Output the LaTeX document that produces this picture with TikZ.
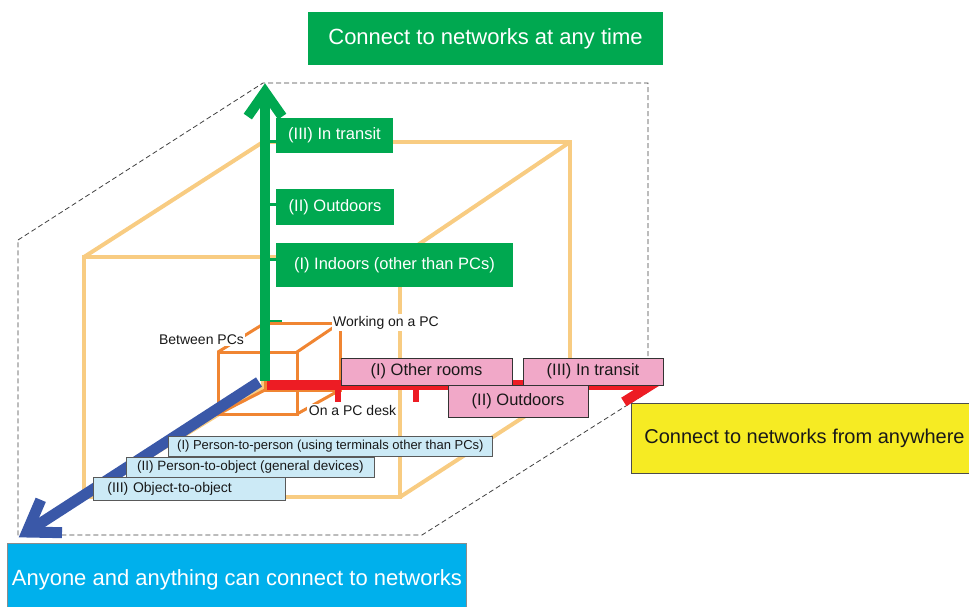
\documentclass[tikz,border=0pt]{standalone}
\usepackage{fontspec}
\setmainfont{Liberation Sans}
\usetikzlibrary{calc}

\begin{document}
\begin{tikzpicture}[x=1pt, y=-1pt,
    frame/.style={black!75, line width=0.8pt, dash pattern=on 5pt off 3pt},
    cube/.style={cubeorange, line width=4pt},
    pccube/.style={pcorange, line width=3pt},
    gaxis/.style={netgreen, line width=10pt},
    raxis/.style={netred, line width=10pt},
    baxis/.style={netblue, line width=11pt},
    gstub/.style={netgreen, line width=3pt},
    rtick/.style={netred, line width=6pt},
    gbox/.style={fill=netgreen, text=white, inner sep=0pt, font=\fontsize{16.5}{18}\selectfont},
    pbox/.style={draw=black!80, line width=0.7pt, fill=roompink, text=black!90, inner sep=0pt, font=\fontsize{16.5}{18}\selectfont},
    bbox/.style={draw=black!65, line width=0.7pt, fill=devblue, text=black!90, inner sep=0pt, minimum height=20pt, anchor=north west, font=\fontsize{13}{15}\selectfont},
    pclabel/.style={fill=white, text=black!90, inner sep=1.5pt, font=\fontsize{14}{16}\selectfont},
    bigbox/.style={inner sep=0pt, font=\fontsize{22}{24}\selectfont}]

  \definecolor{netgreen}{RGB}{0,168,80}
  \definecolor{netred}{RGB}{237,28,36}
  \definecolor{netblue}{RGB}{58,88,168}
  \definecolor{cubeorange}{RGB}{248,204,130}
  \definecolor{pcorange}{RGB}{240,133,50}
  \definecolor{roompink}{RGB}{241,168,200}
  \definecolor{devblue}{RGB}{204,234,246}
  \definecolor{anyyellow}{RGB}{246,235,35}
  \definecolor{anycyan}{RGB}{0,176,236}

  \useasboundingbox (0,0) rectangle (969,607);

  % outer dashed frame
  \draw[frame] (18,240) -- (263,83) -- (648,83) -- (648,392) -- (422,535) -- (18,535) -- cycle;

  % big cube
  \draw[cube] (84,257) rectangle (400,497);
  \draw[cube] (263,142) rectangle (570,387);
  \foreach \f/\b in {{84,257}/{263,142}, {400,257}/{570,142}, {400,497}/{570,387}, {84,497}/{263,387}}
    \draw[cube] (\f) -- (\b);

  % small tick on the time axis
  \draw[gstub] (265,321) -- (282,321);

  % PC cube
  \draw[pccube] (218,352) rectangle (297,414);
  \draw[pccube] (265,323) rectangle (340,390);
  \foreach \f/\b in {{218,352}/{265,323}, {297,352}/{340,323}, {297,414}/{340,390}, {218,414}/{265,390}}
    \draw[pccube] (\f) -- (\b);

  \node[pclabel] (between) at (201.5,339.5) {Between PCs};
  \node[pclabel] (working) at (386,322.5) {Working on a PC};
  \node[pclabel] (desk) at (352.5,410.5) {On a PC desk};

  % the three axes, open heads
  \coordinate (origin) at (265,381);
  \coordinate (rorigin) at (267,385);
  \coordinate (borigin) at (259,382);
  \coordinate (gtip) at (265,92);
  \coordinate (rtip) at (651,385);
  \coordinate (btip) at (27,532);

  \draw[baxis] (borigin) -- (btip);
  \draw[baxis, line join=miter] ($(btip)!35pt!34:(borigin)$) -- (btip) -- ($(btip)!35pt!-34:(borigin)$);

  \draw[raxis] (rorigin) -- (rtip);
  \draw[raxis, line join=miter] ($(rtip)!32pt!32:(rorigin)$) -- (rtip) -- ($(rtip)!32pt!-32:(rorigin)$);
  \foreach \x in {338,416}
    \draw[rtick] (\x,388) -- (\x,402);

  \draw[gaxis] (origin) -- (gtip);
  \draw[gaxis, line join=miter] ($(gtip)!30pt!35:(origin)$) -- (gtip) -- ($(gtip)!30pt!-35:(origin)$);

  % time labels
  \node[gbox, minimum width=117pt, minimum height=35pt] (gtransit) at (334.5,135.5) {(III) In transit};
  \node[gbox, minimum width=118pt, minimum height=36pt] (goutdoors) at (335,207) {(II) Outdoors};
  \node[gbox, minimum width=237pt, minimum height=44pt] (gindoors) at (394.5,265) {(I) Indoors (other than PCs)};
  \draw[gstub] (265,142) -- (gtransit.west |- 0,142);
  \draw[gstub] (265,204) -- (goutdoors.west |- 0,204);
  \draw[gstub] (265,259) -- (gindoors.west |- 0,259);

  % place labels
  \node[pbox, minimum width=171pt, minimum height=27pt] (pother) at (426.5,371.5) {(I) Other rooms};
  \node[pbox, minimum width=140pt, minimum height=27pt] (ptransit) at (593,371.5) {(III) In transit};
  \node[pbox, minimum width=140pt, minimum height=32pt] (poutdoors) at (518,401) {(II) Outdoors};

  % who / what labels
  \node[bbox, minimum width=324pt] (bperson) at (168,436) {(I) Person-to-person (using terminals other than PCs)};
  \node[bbox, minimum width=248pt, font=\fontsize{13.5}{15}\selectfont] (bobject) at (126,457) {(II) Person-to-object (general devices)};
  \node[bbox, minimum height=23pt, text width=164pt, align=left, inner xsep=14pt, font=\fontsize{14}{15}\selectfont] (bthing) at (93,477) {(III) Object-to-object};

  % headings
  \node[bigbox, fill=netgreen, text=white, minimum width=355pt, minimum height=53pt] (anytime) at (485.5,38.5) {Connect to networks at any time};
  \node[bigbox, draw=black!70, line width=1pt, fill=anyyellow, text=black!90, minimum width=346pt, minimum height=70pt, anchor=north west, font=\fontsize{20}{22}\selectfont] (anywhere) at (631,403) {Connect to networks from anywhere};
  \node[bigbox, draw=black!45, line width=0.8pt, fill=anycyan, text=white, minimum width=459pt, minimum height=72pt, anchor=north west] (anyone) at (7,543) {Anyone and anything can connect to networks};

\end{tikzpicture}
\end{document}
